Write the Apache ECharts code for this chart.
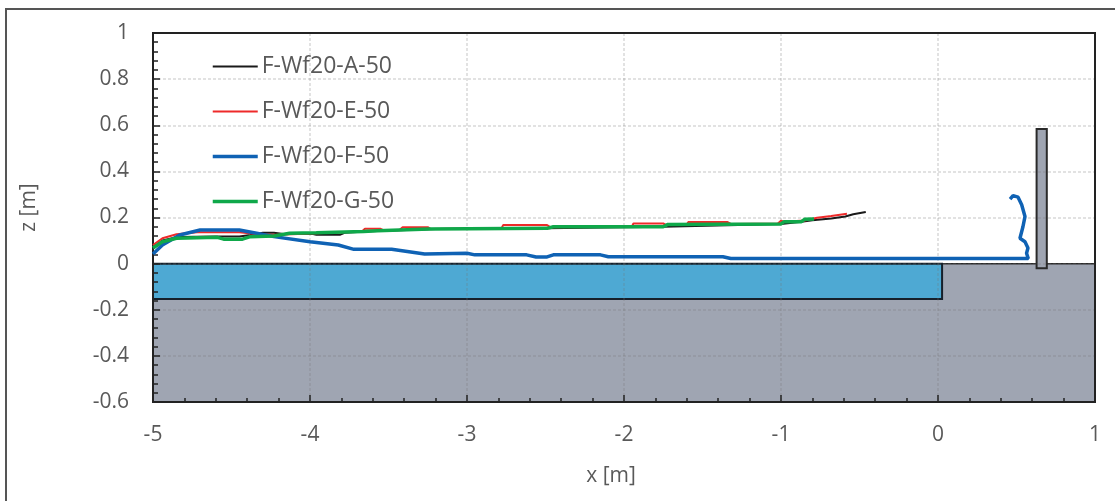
<!DOCTYPE html>
<html><head><meta charset="utf-8">
<style>html,body{margin:0;padding:0;background:#fff}#c{width:1115px;height:501px;filter:blur(0.5px)}</style>
<script src="https://cdn.jsdelivr.net/npm/echarts@6/dist/echarts.min.js"></script>
</head><body><div id="c"></div>
<script>
const frameBox = [-5, 1, -0.6, 1];
const groundBox = [-5, 1, -0.6, 0];
const poolBox = [-5, 0.026, -0.153, 0];
const wallBox = [0.628, 0.693, -0.02, 0.584];
const seriesNames = ['F-Wf20-A-50', 'F-Wf20-E-50', 'F-Wf20-F-50', 'F-Wf20-G-50'];
const lineA = [[-5,0.07],[-4.94,0.1],[-4.85,0.115],[-4.6,0.118],[-4.45,0.118],[-4.38,0.124],[-4.3,0.134],[-4.23,0.134],[-4.17,0.128],[-3.98,0.128],[-3.96,0.125],[-3.81,0.125],[-3.78,0.134],[-3.62,0.14],[-3.2,0.15],[-2.5,0.153],[-1.75,0.16],[-1.0,0.172],[-0.87,0.182],[-0.8,0.188],[-0.68,0.196],[-0.59,0.204],[-0.54,0.214],[-0.46,0.224]];
const lineE = [[-5,0.08],[-4.94,0.11],[-4.85,0.127],[-4.72,0.136],[-4.45,0.136],[-4.3,0.125],[-4.2,0.125],[-3.67,0.139],[-3.65,0.151],[-3.55,0.151],[-3.53,0.144],[-3.43,0.146],[-3.41,0.158],[-3.25,0.158],[-3.23,0.15],[-2.78,0.153],[-2.77,0.167],[-2.49,0.167],[-2.47,0.158],[-1.95,0.16],[-1.94,0.174],[-1.75,0.174],[-1.73,0.167],[-1.6,0.17],[-1.59,0.18],[-1.34,0.18],[-1.32,0.172],[-1.02,0.174],[-1.0,0.186],[-0.98,0.182],[-0.85,0.187],[-0.77,0.199],[-0.68,0.207],[-0.58,0.216]];
const lineF = [[-5,0.042],[-4.94,0.081],[-4.83,0.124],[-4.7,0.146],[-4.45,0.146],[-4.34,0.132],[-4.23,0.117],[-4.0,0.095],[-3.82,0.081],[-3.72,0.062],[-3.48,0.062],[-3.27,0.042],[-3.0,0.045],[-2.95,0.038],[-2.62,0.038],[-2.56,0.029],[-2.49,0.029],[-2.45,0.038],[-2.15,0.038],[-2.1,0.03],[-1.37,0.03],[-1.32,0.022],[-0.5,0.022],[0.575,0.022],[0.564,0.045],[0.573,0.068],[0.554,0.095],[0.522,0.11],[0.541,0.16],[0.554,0.204],[0.533,0.255],[0.51,0.288],[0.478,0.295],[0.459,0.28]];
const lineG = [[-5,0.068],[-4.94,0.095],[-4.85,0.11],[-4.59,0.114],[-4.55,0.106],[-4.43,0.106],[-4.38,0.117],[-4.23,0.12],[-4.13,0.132],[-3.96,0.134],[-3.66,0.139],[-3.57,0.143],[-3.24,0.15],[-2.49,0.153],[-2.45,0.16],[-1.75,0.16],[-1.72,0.17],[-1.0,0.172],[-0.98,0.182],[-0.87,0.182],[-0.85,0.192],[-0.79,0.194]];
const lineColors = ['#1a1a1a', '#ee2a2a', '#0f62b4', '#0fa84a'];
const lineWidths = [2, 2, 3.5, 3.5];
const lineData = [lineA, lineE, lineF, lineG];
const axisText = '#595959';
const font = '"Open Sans", "Noto Sans", sans-serif';

function boxSeries(box, fill, border, lw, z) {
  return {
    type: 'custom', coordinateSystem: 'cartesian2d', silent: true, z: z,
    data: [box], clip: false,
    encode: { x: [0, 1], y: [2, 3] },
    renderItem: (p, api) => {
      const a = api.coord([api.value(0), api.value(3)]);
      const b = api.coord([api.value(1), api.value(2)]);
      return { type: 'rect',
        shape: { x: a[0], y: a[1], width: b[0] - a[0], height: b[1] - a[1] },
        style: { fill: fill, stroke: border, lineWidth: lw } };
    }
  };
}

const chart = echarts.init(document.getElementById('c'), null, { renderer: 'canvas' });
chart.setOption({
  animation: false,
  backgroundColor: '#fff',
  textStyle: { fontFamily: font },
  graphic: [{ type: 'polyline', silent: true, z: -10,
    shape: { points: [[6, 501], [6, 9], [1115, 9]] },
    style: { fill: 'none', stroke: '#555', lineWidth: 2 } }],
  grid: { left: 153, right: 20, top: 33, bottom: 99, containLabel: false, outerBoundsMode: 'none' },
  legend: {
    data: seriesNames.map((n, i) => ({ name: n, lineStyle: { width: lineWidths[i] } })),
    orient: 'vertical', left: 211, top: 55,
    itemWidth: 45, itemHeight: 14, itemGap: 22,
    selectedMode: false, padding: 0,
    itemStyle: { opacity: 0 },
    textStyle: { color: axisText, fontSize: 23, fontFamily: font, padding: [0, 0, 0, -1] }
  },
  xAxis: {
    type: 'value', min: -5, max: 1, interval: 1, name: 'x [m]', nameLocation: 'middle', nameGap: 64,
    nameTextStyle: { color: axisText, fontSize: 21, fontFamily: font, padding: [0, 26, 0, 0] },
    axisLine: { onZero: false, lineStyle: { color: '#222', width: 2 } },
    axisTick: { inside: true, length: 7, lineStyle: { color: '#222', width: 1.5 } },
    minorTick: { show: true, splitNumber: 5, length: 4, lineStyle: { color: '#222', width: 1.5 } },
    axisLabel: { color: axisText, fontSize: 21, margin: 23, fontFamily: font },
    splitLine: { show: true, lineStyle: { color: 'rgba(120,120,120,0.28)', type: [3, 2], width: 1.5 } }
  },
  yAxis: {
    type: 'value', min: -0.6, max: 1, interval: 0.2, name: 'z [m]', nameLocation: 'middle', nameGap: 113, nameRotate: 90,
    nameTextStyle: { color: axisText, fontSize: 21, fontFamily: font, padding: [0, 0, 0, 20] },
    axisLine: { onZero: false, lineStyle: { color: '#222', width: 2 } },
    axisTick: { inside: true, length: 7, lineStyle: { color: '#222', width: 1.5 } },
    minorTick: { show: true, splitNumber: 5, length: 5, lineStyle: { color: '#222', width: 1.5 } },
    axisLabel: { color: axisText, fontSize: 21, margin: 24, fontFamily: font, padding: [3, 0, 0, 0] },
    splitLine: { show: true, lineStyle: { color: 'rgba(120,120,120,0.28)', type: [3, 2], width: 1.5 } }
  },
  series: [
    boxSeries(groundBox, '#9fa5b2', '#2a2a2a', 1.5, -3),
    boxSeries(poolBox, '#4ea9d3', '#16202a', 2, -2),
    boxSeries(wallBox, '#9fa5b2', '#2a2a2a', 2, -1),
    boxSeries(frameBox, 'none', '#222', 2, 1)
  ].concat(seriesNames.map((n, i) => ({
    name: n, type: 'line', data: lineData[i], symbol: 'none', z: 3 + i,
    lineStyle: { color: lineColors[i], width: lineWidths[i] },
    itemStyle: { color: lineColors[i] }
  })))
});
</script></body></html>
